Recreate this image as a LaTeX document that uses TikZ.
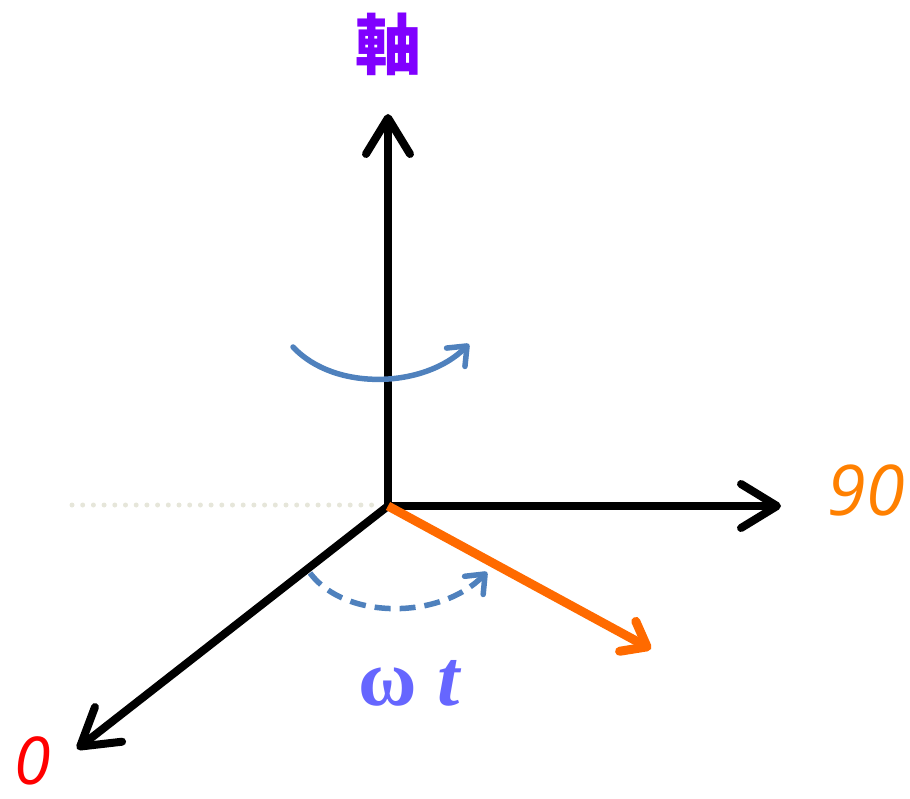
\documentclass[tikz,border=0pt]{standalone}
\usepackage{fontspec}
\usetikzlibrary{arrows.meta}
\newfontfamily\cjkfont{Noto Sans CJK SC}
\newfontfamily\numfont{Open Sans}
\newfontfamily\greekfont{Liberation Serif}
\definecolor{axispurple}{HTML}{8000FF}
\definecolor{rotblue}{HTML}{4F81BD}
\definecolor{vecorange}{HTML}{FF6A00}
\definecolor{lblorange}{HTML}{FF8000}
\definecolor{lblred}{HTML}{FF0000}
\definecolor{omegablue}{HTML}{6666FF}
\definecolor{dotgray}{HTML}{E6E6DA}
\tikzset{
  axisline/.style={line width=8pt, black, -{Straight Barb[length=36pt,width=44pt,round]}},
  vecline/.style={line width=9pt, vecorange, -{Straight Barb[length=22pt,width=34pt,round]}},
  rotline/.style={line width=5.5pt, rotblue, line cap=round, -{Straight Barb[length=16pt,width=26pt,round]}},
  dashrot/.style={rotline, dash pattern=on 16pt off 9pt, line cap=butt},
  guide/.style={line width=5pt, dotgray, line cap=round, dash pattern=on 0pt off 10.7pt},
}
\begin{document}
\begin{tikzpicture}[x=1pt,y=-1pt]
\useasboundingbox (0,0) rectangle (910,799);
\coordinate (O) at (388,506);
\coordinate (top) at (388,114);
\coordinate (right) at (781,506);
\coordinate (diag) at (77,749);
\coordinate (vec) at (651,649);
\coordinate (gl) at (72,505);
\coordinate (gr) at (382,505);
\coordinate (r1) at (293,347);
\coordinate (r2) at (469,344);
\coordinate (d1) at (310,573);
\coordinate (d2) at (487,572);
\draw[guide] (gl) -- (gr);
\draw[axisline] (O) -- (top);
\draw[axisline] (O) -- (right);
\draw[axisline] (O) -- (diag);
\draw[vecline] (O) -- (vec);
\draw[rotline] (r1) .. controls (335,392) and (425,388) .. (r2);
\draw[dashrot] (d1) .. controls (345,620) and (440,620) .. (d2);
\node[text=axispurple, font=\cjkfont\bfseries\fontsize{66}{66}\selectfont, inner sep=0pt] (axlbl) at (388,44) {軸};
\node[text=lblorange, font=\numfont\itshape\fontsize{70}{70}\selectfont, inner sep=0pt] (lbl90) at (866,490) {90};
\node[text=lblred, font=\numfont\itshape\fontsize{66}{66}\selectfont, inner sep=0pt] (lbl0) at (33,761) {0};
\node[text=omegablue, font=\greekfont\fontsize{80}{80}\selectfont, inner sep=0pt, anchor=base] (wt) at (410,705) {\textbf{ω} \textbf{\textit{t}}};
\end{tikzpicture}
\end{document}
